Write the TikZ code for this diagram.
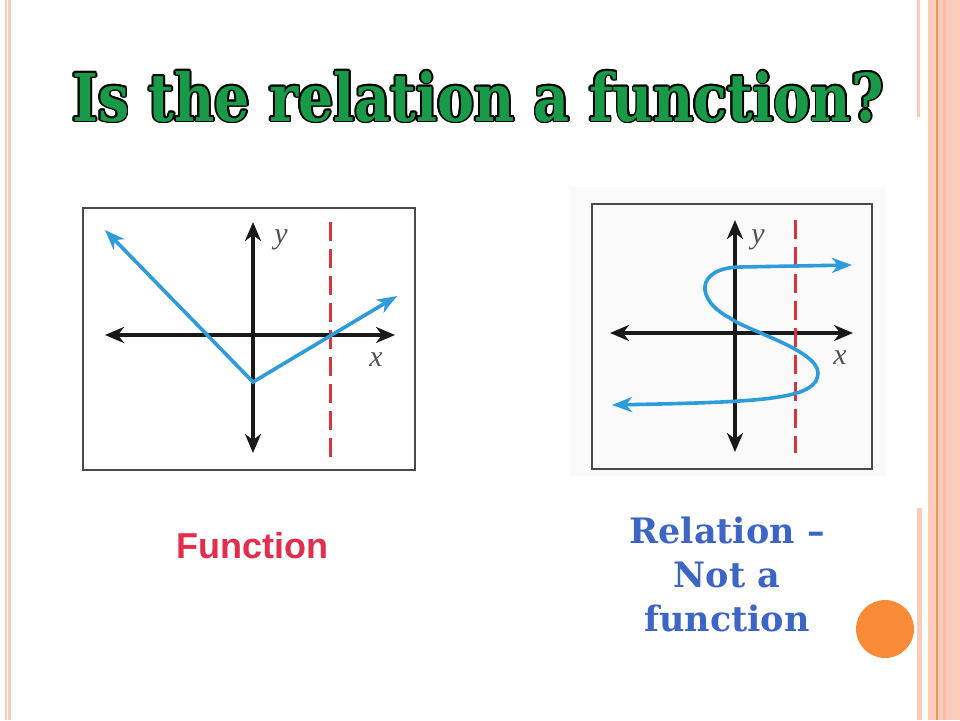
\documentclass[tikz,border=0pt]{standalone}
\usepackage{fontspec}
\usepackage{graphicx}
\usepackage{xcolor}
\usepackage{tikz}
\usetikzlibrary{arrows.meta}

\newfontfamily\titlefont{DejaVu Serif}
\newfontfamily\capfont{Liberation Sans}
\newfontfamily\axisfont{Liberation Serif}

\definecolor{titlegreen}{HTML}{189A48}
\definecolor{funcred}{HTML}{E32D4C}
\definecolor{relblue}{HTML}{3D66C4}
\definecolor{curveblue}{HTML}{2E9BDA}
\definecolor{guidered}{HTML}{D8343C}
\definecolor{framegray}{HTML}{4A4A4A}
\definecolor{labgray}{HTML}{505050}
\definecolor{peach}{HTML}{F9CBB8}
\definecolor{peachdark}{HTML}{F6BCA4}
\definecolor{orangeline}{HTML}{EC9366}
\definecolor{dotorange}{HTML}{F98B36}

\begin{document}
\begin{tikzpicture}[x=1pt,y=-1pt,
        frame/.style={draw=framegray,line width=2.2pt},
        axis/.style={draw=black!90,line width=3.2pt,
            {Stealth[length=19pt,width=16pt,inset=6pt]}-{Stealth[length=19pt,width=16pt,inset=6pt]}},
        curve/.style={draw=curveblue,line width=3.6pt,
            {Stealth[length=20pt,width=15pt,inset=6pt]}-{Stealth[length=20pt,width=15pt,inset=6pt]}},
        guide/.style={draw=guidered,line width=3pt,dash pattern=on 19pt off 8pt},
        lab/.style={text=labgray,font=\axisfont\itshape\fontsize{30}{30}\selectfont,inner sep=0pt},
        titletxt/.style={font=\titlefont\bfseries\fontsize{66}{66}\selectfont,anchor=base,inner sep=0pt}]
        \useasboundingbox (0,0) rectangle (960,720);
        \fill[white] (0,0) rectangle (960,720);

        % slide borders
        \fill[peach] (5,0) rectangle (6.5,720);
        \fill[peach] (7.5,0) rectangle (11,720);
        \fill[peach] (917,0) rectangle (919.5,117);
        \fill[peach] (917,508) rectangle (921.5,720);
        \fill[peach] (928,0) rectangle (960,720);
        \fill[peachdark] (942.5,0) rectangle (945.5,720);
        \fill[orangeline] (935.5,0) rectangle (937.5,720);

        % title
        \foreach \ang in {0,30,...,330}
            \node[titletxt,text=black] (title\ang) at ([shift={(\ang:1.8)}]478,121) {\scalebox{0.84}[1]{Is the relation a function?}};
        \node[titletxt,text=titlegreen] (title) at (478,121) {\scalebox{0.84}[1]{Is the relation a function?}};

        % left graph
        \draw[frame] (83,208) rectangle (415,470);
        \coordinate (lxl) at (105,335);
        \coordinate (lxr) at (395,335);
        \coordinate (lyt) at (253,222);
        \coordinate (lyb) at (253,453);
        \draw[axis] (lxl) -- (lxr);
        \draw[axis] (lyt) -- (lyb);
        \draw[guide] (330,222) -- (330,457);
        \draw[curve] (105,230) -- (253,382) -- (397,296);
        \node[lab] (ly1) at (281,240) {y};
        \node[lab] (lx1) at (376,360) {x};

        % right graph
        \fill[gray!4] (570,187) rectangle (885,476);
        \draw[frame] (592,204) rectangle (872,469);
        \coordinate (rxl) at (610,333);
        \coordinate (rxr) at (853,333);
        \coordinate (ryt) at (735,220);
        \coordinate (ryb) at (735,452);
        \draw[axis] (rxl) -- (rxr);
        \draw[axis] (ryt) -- (ryb);
        \draw[guide] (795,220) -- (795,453);
        \draw[curve] (612,405) .. controls (760,402) and (818,400) .. (818,373)
            .. controls (818,350) and (745,330) .. (730,318)
            .. controls (695,300) and (695,268) .. (740,267) -- (852,265);
        \node[lab] (ly2) at (758,240) {y};
        \node[lab] (lx2) at (840,358) {x};

        % captions
        \node[font=\capfont\bfseries\fontsize{36}{36}\selectfont,text=funcred,anchor=base] (fn) at (252,558) {Function};
        \node[font=\titlefont\bfseries\fontsize{35}{44}\selectfont,text=relblue,align=center] (rel) at (727,574) {Relation –\\Not a\\function};

        \fill[dotorange] (885,629) circle (29);
    \end{tikzpicture}
\end{document}
